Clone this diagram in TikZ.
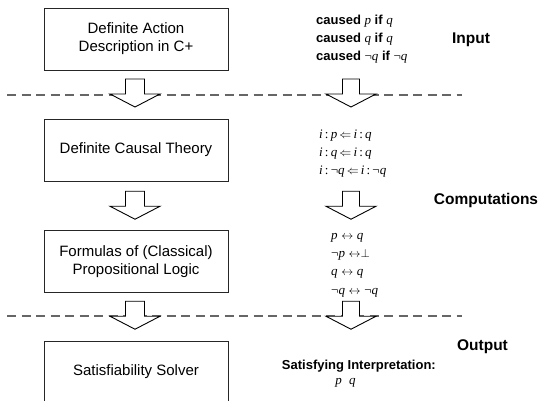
\documentclass[tikz,border=0pt]{standalone}
\usepackage{fontspec}
\setmainfont{Liberation Sans}
\newfontfamily\tms{Liberation Serif}
\usetikzlibrary{calc}
\newcommand\mv[1]{{\tms\itshape #1}}
\newcommand\lognot{{\tms ¬}}
\newcommand\biimp{$\leftrightarrow$}
\begin{document}
\begin{tikzpicture}[x=1pt,y=-1pt,
  stagebox/.style={draw=black!85,line width=0.8pt,minimum width=184pt,minimum height=62pt,
    inner sep=0pt,align=center,font=\fontsize{15}{18}\selectfont},
  formulas/.style={anchor=west,align=left,inner sep=0pt,font=\fontsize{13}{18.3}\selectfont},
  phase/.style={inner sep=0pt,font=\fontsize{15.5}{18}\selectfont\bfseries},
  divider/.style={draw=black!60,line width=1.3pt,dash pattern=on 9pt off 5.5pt},
  pics/blockarrow/.style={code={
    \draw[line width=0.9pt,fill=white,line join=miter]
      (-#1,-14) -- (#1,-14) -- (#1,1) -- (25,1) -- (0,14) -- (-25,1) -- (-#1,1) -- cycle;
  }}]
\useasboundingbox (0,0) rectangle (542,401);

% processing stages
\node[stagebox] (b1) at (136,39) {Definite Action\\Description in C+};
\node[stagebox] (b2) at (136,150) {Definite Causal Theory};
\node[stagebox] (b3) at (136,261.5) {Formulas of (Classical)\\Propositional Logic};
\node[stagebox] (b4) at (136,372) {Satisfiability Solver};

% phase separators
\coordinate (d1l) at (7,95);   \coordinate (d1r) at (462,95);
\coordinate (d2l) at (7,316);  \coordinate (d2r) at (462,316);
\draw[divider] (d1l) -- (d1r);
\draw[divider] (d2l) -- (d2r);

% worked example
\node[formulas] (ex1) at (316,39.3) {%
  \textbf{caused} \mv{p} \textbf{if} \mv{q}\\
  \textbf{caused} \mv{q} \textbf{if} \mv{q}\\
  \textbf{caused} \lognot\mv{q} \textbf{if} \lognot\mv{q}};
\node[formulas] (ex2) at (319,153.5) {%
  \mv{i}\,{\tms:}\,\mv{p}\,$\Leftarrow$\,\mv{i}\,{\tms:}\,\mv{q}\\
  \mv{i}\,{\tms:}\,\mv{q}\,$\Leftarrow$\,\mv{i}\,{\tms:}\,\mv{q}\\
  \mv{i}\,{\tms:}\,\lognot\mv{q}\,$\Leftarrow$\,\mv{i}\,{\tms:}\,\lognot\mv{q}};
\node[formulas] (ex3) at (331,265) {%
  \mv{p} \biimp{} \mv{q}\\
  \lognot\mv{p} \biimp$\bot$\\
  \mv{q} \biimp{} \mv{q}\\
  \lognot\mv{q} \biimp{} \lognot\mv{q}};
\node[anchor=east,inner sep=0pt,font=\fontsize{13}{16}\selectfont\bfseries] (sat) at (436,366) {Satisfying Interpretation:};
\node[inner sep=0pt,font=\fontsize{13}{16}\selectfont] (model) at (345.5,383) {\mv{p}\ \ \mv{q}};

% phase labels
\node[phase] (lin) at (471,40) {Input};
\node[phase] (lcomp) at (486,200) {Computations};
\node[phase] (lout) at (482.5,347) {Output};

% block arrows between stages
\pic at ($(b1.south)!0.5!(b2.north)+(-1,-1.5)$) {blockarrow=9.5};
\pic at ($(b2.south)!0.5!(b3.north)+(-1,-0.5)$) {blockarrow=9.5};
\pic at ($(b3.south)!0.5!(b4.north)+(-1,-1.5)$) {blockarrow=9.5};
\pic at ($(b1.south)!0.5!(b2.north)+(215,-1.5)$) {blockarrow=8.5};
\pic at ($(b2.south)!0.5!(b3.north)+(215,-0.5)$) {blockarrow=8.5};
\pic at ($(b3.south)!0.5!(b4.north)+(215,-1.5)$) {blockarrow=8.5};
\end{tikzpicture}
\end{document}
